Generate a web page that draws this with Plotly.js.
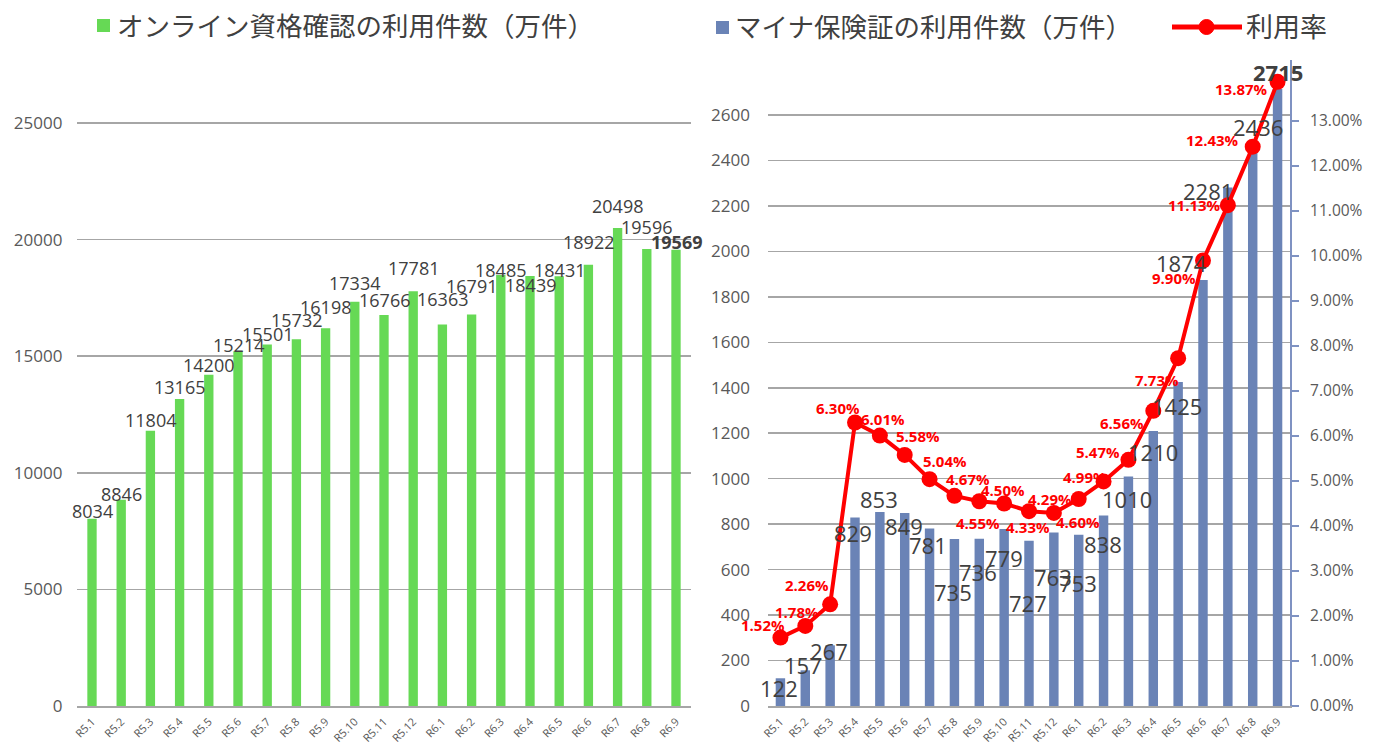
<!DOCTYPE html>
<html>
<head>
<meta charset="utf-8">
<script src="https://cdn.plot.ly/plotly-3.0.1.min.js"></script>
<style>html,body{margin:0;padding:0;background:#fff;}#chart{width:1378px;height:747px;}</style>
</head>
<body>
<div id="chart"></div>
<script>
// ---- data ----
const months = ['R5.1','R5.2','R5.3','R5.4','R5.5','R5.6','R5.7','R5.8','R5.9','R5.10','R5.11','R5.12','R6.1','R6.2','R6.3','R6.4','R6.5','R6.6','R6.7','R6.8','R6.9'];
const onlineCounts = [8034,8846,11804,13165,14200,15214,15501,15732,16198,17334,16766,17781,16363,16791,18485,18439,18431,18922,20498,19596,19569];
const mynaCounts = [122,157,267,829,853,849,781,735,736,779,727,763,753,838,1010,1210,1425,1874,2281,2436,2715];
const usageRate = [1.52,1.78,2.26,6.30,6.01,5.58,5.04,4.67,4.55,4.50,4.33,4.29,4.60,4.99,5.47,6.56,7.73,9.90,11.13,12.43,13.87];
const leftTicks = [0,5000,10000,15000,20000,25000];
const rightTicks = [0,200,400,600,800,1000,1200,1400,1600,1800,2000,2200,2400,2600];
const rateTicks = [0,1,2,3,4,5,6,7,8,9,10,11,12,13];
const onlineName = 'オンライン資格確認の利用件数（万件）';
const mynaName = 'マイナ保険証の利用件数（万件）';
const rateName = '利用率';

// ---- label placement (pixel offsets, styling only) ----
const leftLabelDy = [8,6,11,12,10,6,11,19,21,19,15,23,25,28,5,-9,6,23,22,22,8];
const rightLabelDy = [-10,5,-6,-15,13,-13,-17,-53,-33,-29,-62,-44,-48,-28,-23,-21,-24,17,-3,25,17];
const rightLabelDx = [-1,-2,-1,-2,-1,-1,-2,-1,-1,0,-1,-1,-1,-1,-1,0,-1,-22,-20,5,0];
const rateLabelDx = [-17,-8,-23,-17,3,13,15,14,-1,-1,-1,-4,-1,-19,-30,-31,-21,-29,-33,-40,-36];
const rateLabelDy = [13,14,19,15,17,19,18,17,-22,14,-16,14,-23,4,8,-12,-22,-17,0,7,-7];

const NUMFONT = 'Open Sans, Noto Sans CJK JP, sans-serif';
const JPFONT = 'Noto Sans CJK JP, sans-serif';
const TXT = '#404040';
const GREEN = '#66D955', BLUE = '#6A83B6', RED = '#FF0000';

const traces = [
  {type:'bar', x:months, y:onlineCounts, name:onlineName, xaxis:'x', yaxis:'y',
   marker:{color:GREEN}, width:0.32, hoverinfo:'skip'},
  {type:'bar', x:months, y:mynaCounts, name:mynaName, xaxis:'x2', yaxis:'y2',
   marker:{color:BLUE}, width:0.38, hoverinfo:'skip'},
  {type:'scatter', mode:'lines+markers', x:months, y:usageRate, name:rateName, xaxis:'x2', yaxis:'y3',
   line:{color:RED, width:4}, marker:{color:RED, size:16}, hoverinfo:'skip'}
];

const W = 1378, H = 747;
const px = v => v / W;
const py = v => 1 - v / H;

const annotations = [];
months.forEach((m,i)=>{
  const last = i === months.length-1;
  annotations.push({x:m, y:onlineCounts[i], xref:'x', yref:'y', showarrow:false,
    text: last ? '<b>'+onlineCounts[i]+'</b>' : String(onlineCounts[i]),
    yanchor:'middle', xanchor:'center', yshift:leftLabelDy[i],
    font:{family:NUMFONT, size:18, color:TXT}});
  annotations.push({x:m, y:mynaCounts[i], xref:'x2', yref:'y2', showarrow:false,
    text: last ? '<b>'+mynaCounts[i]+'</b>' : String(mynaCounts[i]),
    yanchor:'middle', xanchor:'center', yshift:rightLabelDy[i], xshift:rightLabelDx[i],
    font:{family:NUMFONT, size:22, color:TXT}});
  annotations.push({x:m, y:usageRate[i], xref:'x2', yref:'y3', showarrow:false,
    text:'<b>'+usageRate[i].toFixed(2)+'%</b>',
    yanchor:'middle', xanchor:'center', yshift:rateLabelDy[i], xshift:rateLabelDx[i],
    font:{family:NUMFONT, size:15, color:RED}});
});

// legend texts (drawn as annotations + shapes)
annotations.push({x:px(115), y:py(25), xref:'paper', yref:'paper', xanchor:'left', yanchor:'middle',
  showarrow:false, text:onlineName, font:{family:JPFONT, size:26.5, color:TXT}});
annotations.push({x:px(733), y:py(26), xref:'paper', yref:'paper', xanchor:'left', yanchor:'middle',
  showarrow:false, text:mynaName, font:{family:JPFONT, size:26.5, color:TXT}});
annotations.push({x:px(1244), y:py(26), xref:'paper', yref:'paper', xanchor:'left', yanchor:'middle',
  showarrow:false, text:rateName, font:{family:JPFONT, size:27, color:TXT}});

const shapes = [
  {type:'rect', xref:'paper', yref:'paper', x0:px(97), x1:px(110), y0:py(32), y1:py(19), fillcolor:GREEN, line:{width:0}},
  {type:'rect', xref:'paper', yref:'paper', x0:px(716), x1:px(729), y0:py(34), y1:py(21), fillcolor:BLUE, line:{width:0}},
  {type:'line', xref:'paper', yref:'paper', x0:px(1172), x1:px(1242), y0:py(27), y1:py(27), line:{color:RED, width:5}},
  {type:'circle', xref:'paper', yref:'paper', x0:px(1199), x1:px(1214), y0:py(34.5), y1:py(19.5), fillcolor:RED, line:{color:RED, width:1}}
];

const yDom = [41/747, 687/747];
const gridC = '#A6A6A6';
const tickFont = {family:NUMFONT, size:17, color:'#595959'};
const xTickFont = {family:NUMFONT, size:11, color:'#595959'};

const layout = {
  width:W, height:H,
  margin:{l:0,r:0,t:0,b:0},
  paper_bgcolor:'#fff', plot_bgcolor:'rgba(0,0,0,0)',
  font:{family:JPFONT, color:TXT},
  showlegend:false,
  xaxis:{domain:[77.4/W, 690.6/W], anchor:'y', type:'category', range:[-0.5,20.5],
    showgrid:false, showline:true, linecolor:gridC, linewidth:2, tickangle:-45,
    tickfont:xTickFont, ticks:'', ticklabelstandoff:3},
  yaxis:{domain:yDom, anchor:'x', range:[0,27702], tickvals:leftTicks,
    showgrid:true, gridcolor:gridC, gridwidth:1.5, zeroline:false, showline:false,
    tickfont:tickFont, ticklabelstandoff:14, tickformat:'d'},
  xaxis2:{domain:[768/W, 1290/W], anchor:'y2', type:'category', range:[-0.5,20.5],
    showgrid:false, showline:true, linecolor:gridC, linewidth:2, tickangle:-45,
    tickfont:xTickFont, ticks:'', ticklabelstandoff:3},
  yaxis2:{domain:yDom, anchor:'x2', range:[0,2842], tickvals:rightTicks,
    showgrid:true, gridcolor:gridC, gridwidth:1.5, zeroline:false, showline:false,
    tickfont:tickFont, ticklabelstandoff:17, tickformat:'d'},
  yaxis3:{overlaying:'y2', side:'right', anchor:'x2', range:[0,14.356], tickmode:'array',
    tickvals:rateTicks, ticktext:rateTicks.map(v => v.toFixed(2) + '%'),
    showgrid:false, zeroline:false, showline:true, linecolor:'#7F92C2', linewidth:2,
    ticks:'outside', ticklen:7, tickcolor:'#7F92C2', tickwidth:1.5,
    tickfont:{family:NUMFONT, size:15.5, color:'#595959'}, ticklabelstandoff:8},
  annotations:annotations,
  shapes:shapes
};

Plotly.newPlot('chart', traces, layout, {displayModeBar:false, staticPlot:true});
</script>
</body>
</html>
